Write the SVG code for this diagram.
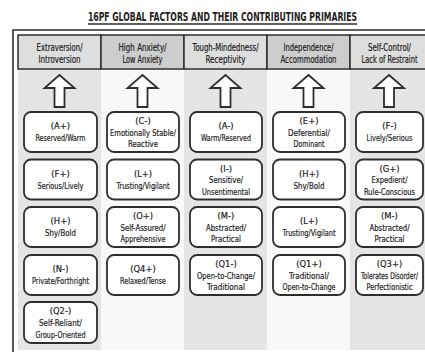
<svg xmlns="http://www.w3.org/2000/svg" xmlns:xlink="http://www.w3.org/1999/xlink" width="425" height="352" viewBox="0 0 425 352">
<style>
text{font-family:"DejaVu Sans Condensed","Liberation Sans",sans-serif;fill:#222222;text-anchor:middle;stroke:#222222;stroke-width:0.2}
.t{font-size:12.5px;font-weight:bold;stroke-width:0}
.h{font-size:10px}
.b{font-size:9.3px}
.s{font-size:8.6px}
.box{fill:#ffffff;stroke:#2e2e2e;stroke-width:1.8}
.arrow{fill:#ffffff;stroke:#2e2e2e;stroke-width:1.8;stroke-linejoin:miter}
.hd{stroke:#2e2e2e;stroke-width:1.5}
</style>
<defs>
<path id="arr" class="arrow" d="M0,75 L15,88 L5,88 L5,107 L-5,107 L-5,88 L-15,88 Z"/>
</defs>
<rect width="425" height="352" fill="#ffffff"/>
<text class="t" transform="translate(222.5,21) scale(0.66,1)" x="0" y="0" textLength="407.6" lengthAdjust="spacingAndGlyphs">16PF GLOBAL FACTORS AND THEIR CONTRIBUTING PRIMARIES</text>
<line x1="88" y1="24" x2="357" y2="24" stroke="#2a2a2a" stroke-width="1.3"/>
<!-- frame -->
<path d="M13,352 L13,30 L425,30" fill="none" stroke="#2e2e2e" stroke-width="1.6"/>
<!-- column backgrounds -->
<rect x="18" y="69" width="83" height="281" fill="#e5e5e5"/>
<rect x="101" y="69" width="83" height="281" fill="#f8f8f8"/>
<rect x="184" y="69" width="83" height="281" fill="#e5e5e5"/>
<rect x="267" y="69" width="83" height="281" fill="#f8f8f8"/>
<rect x="350" y="69" width="75" height="281" fill="#e5e5e5"/>
<!-- headers -->
<g id="headers">
<rect class="hd" x="18" y="35" width="83" height="34" fill="#dedede"/>
<rect class="hd" x="101" y="35" width="83" height="34" fill="#cdcdcd"/>
<rect class="hd" x="184" y="35" width="83" height="34" fill="#dedede"/>
<rect class="hd" x="267" y="35" width="83" height="34" fill="#cdcdcd"/>
<rect class="hd" x="350" y="35" width="80" height="34" fill="#dedede"/>
<text class="h" x="59.5" y="51" textLength="46" lengthAdjust="spacingAndGlyphs">Extraversion/</text><text class="h" x="59.5" y="63" textLength="42" lengthAdjust="spacingAndGlyphs">Introversion</text>
<text class="h" x="142.5" y="51" textLength="48" lengthAdjust="spacingAndGlyphs">High Anxiety/</text><text class="h" x="142.5" y="63" textLength="40" lengthAdjust="spacingAndGlyphs">Low Anxiety</text>
<text class="h" x="225.5" y="51" textLength="66" lengthAdjust="spacingAndGlyphs">Tough-Mindedness/</text><text class="h" x="225.5" y="63" textLength="40" lengthAdjust="spacingAndGlyphs">Receptivity</text>
<text class="h" x="308.5" y="51" textLength="50" lengthAdjust="spacingAndGlyphs">Independence/</text><text class="h" x="308.5" y="63" textLength="56" lengthAdjust="spacingAndGlyphs">Accommodation</text>
<text class="h" x="389.5" y="51" textLength="43" lengthAdjust="spacingAndGlyphs">Self-Control/</text><text class="h" transform="translate(389.5,63) scale(0.7,1)" x="0" y="0" textLength="80" lengthAdjust="spacingAndGlyphs">Lack of Restraint</text>
</g>
<g id="connectors">
<use xlink:href="#arr" x="59.5"/>
<use xlink:href="#arr" x="142.5"/>
<use xlink:href="#arr" x="225.5"/>
<use xlink:href="#arr" x="308.5"/>
<use xlink:href="#arr" x="389"/>
</g>
<!-- column 1 -->
<g id="c1r1"><rect class="box" x="24" y="112" width="73" height="40" rx="7"/><text class="b" x="60.5" y="129">(A+)</text><text class="b" x="60.5" y="141" textLength="50" lengthAdjust="spacingAndGlyphs">Reserved/Warm</text></g>
<g id="c1r2"><rect class="box" x="24" y="159.5" width="73" height="40" rx="7"/><text class="b" x="60.5" y="176.5">(F+)</text><text class="b" x="60.5" y="188.5" textLength="46" lengthAdjust="spacingAndGlyphs">Serious/Lively</text></g>
<g id="c1r3"><rect class="box" x="24" y="207" width="73" height="40" rx="7"/><text class="b" x="60.5" y="224">(H+)</text><text class="b" x="60.5" y="236" textLength="31" lengthAdjust="spacingAndGlyphs">Shy/Bold</text></g>
<g id="c1r4"><rect class="box" x="24" y="255" width="73" height="40" rx="7"/><text class="b" x="60.5" y="272">(N-)</text><text class="b" x="60.5" y="284" textLength="57" lengthAdjust="spacingAndGlyphs">Private/Forthright</text></g>
<g id="c1r5"><rect class="box" x="24" y="302" width="73" height="41" rx="7"/><text class="b" x="60.5" y="314">(Q2-)</text><text class="b" x="60.5" y="326" textLength="43" lengthAdjust="spacingAndGlyphs">Self-Reliant/</text><text class="b" x="60.5" y="338" textLength="50" lengthAdjust="spacingAndGlyphs">Group-Oriented</text></g>
<!-- column 2 -->
<g id="c2r1"><rect class="box" x="107" y="112" width="72" height="40" rx="7"/><text class="b" x="143" y="124">(C-)</text><text class="b" x="143" y="135.5" textLength="66" lengthAdjust="spacingAndGlyphs">Emotionally Stable/</text><text class="b" x="143" y="147" textLength="30" lengthAdjust="spacingAndGlyphs">Reactive</text></g>
<g id="c2r2"><rect class="box" x="107" y="159.5" width="72" height="40" rx="7"/><text class="b" x="143" y="176.5">(L+)</text><text class="b" x="143" y="188.5" textLength="53" lengthAdjust="spacingAndGlyphs">Trusting/Vigilant</text></g>
<g id="c2r3"><rect class="box" x="107" y="207" width="72" height="40" rx="7"/><text class="b" x="143" y="219">(O+)</text><text class="b" x="143" y="230.5" textLength="45" lengthAdjust="spacingAndGlyphs">Self-Assured/</text><text class="b" x="143" y="242" textLength="45" lengthAdjust="spacingAndGlyphs">Apprehensive</text></g>
<g id="c2r4"><rect class="box" x="107" y="255" width="72" height="40" rx="7"/><text class="b" x="143" y="272">(Q4+)</text><text class="b" x="143" y="284" textLength="46" lengthAdjust="spacingAndGlyphs">Relaxed/Tense</text></g>
<!-- column 3 -->
<g id="c3r1"><rect class="box" x="190" y="112" width="72" height="40" rx="7"/><text class="b" x="226" y="129">(A-)</text><text class="b" x="226" y="141" textLength="50" lengthAdjust="spacingAndGlyphs">Warm/Reserved</text></g>
<g id="c3r2"><rect class="box" x="190" y="159.5" width="72" height="40" rx="7"/><text class="b" x="226" y="171.5">(I-)</text><text class="b" x="226" y="183" textLength="34" lengthAdjust="spacingAndGlyphs">Sensitive/</text><text class="b" x="226" y="194.5" textLength="48" lengthAdjust="spacingAndGlyphs">Unsentimental</text></g>
<g id="c3r3"><rect class="box" x="190" y="207" width="72" height="40" rx="7"/><text class="b" x="226" y="219">(M-)</text><text class="b" x="226" y="230.5" textLength="40" lengthAdjust="spacingAndGlyphs">Abstracted/</text><text class="b" x="226" y="242" textLength="30" lengthAdjust="spacingAndGlyphs">Practical</text></g>
<g id="c3r4"><rect class="box" x="190" y="255" width="72" height="40" rx="7"/><text class="b" x="226" y="267">(Q1-)</text><text class="b" x="226" y="278.5" textLength="58" lengthAdjust="spacingAndGlyphs">Open-to-Change/</text><text class="b" x="226" y="290" textLength="38" lengthAdjust="spacingAndGlyphs">Traditional</text></g>
<!-- column 4 -->
<g id="c4r1"><rect class="box" x="273" y="112" width="72" height="40" rx="7"/><text class="b" x="309" y="124">(E+)</text><text class="b" x="309" y="135.5" textLength="42" lengthAdjust="spacingAndGlyphs">Deferential/</text><text class="b" x="309" y="147" textLength="31" lengthAdjust="spacingAndGlyphs">Dominant</text></g>
<g id="c4r2"><rect class="box" x="273" y="159.5" width="72" height="40" rx="7"/><text class="b" x="309" y="176.5">(H+)</text><text class="b" x="309" y="188.5" textLength="31" lengthAdjust="spacingAndGlyphs">Shy/Bold</text></g>
<g id="c4r3"><rect class="box" x="273" y="207" width="72" height="40" rx="7"/><text class="b" x="309" y="224">(L+)</text><text class="b" x="309" y="236" textLength="53" lengthAdjust="spacingAndGlyphs">Trusting/Vigilant</text></g>
<g id="c4r4"><rect class="box" x="273" y="255" width="72" height="40" rx="7"/><text class="b" x="309" y="267">(Q1+)</text><text class="b" x="309" y="278.5" textLength="40" lengthAdjust="spacingAndGlyphs">Traditional/</text><text class="b" x="309" y="290" textLength="53" lengthAdjust="spacingAndGlyphs">Open-to-Change</text></g>
<!-- column 5 -->
<g id="c5r1"><rect class="box" x="356" y="112" width="67" height="40" rx="7"/><text class="b" x="389.5" y="129">(F-)</text><text class="b" x="389.5" y="141" textLength="46" lengthAdjust="spacingAndGlyphs">Lively/Serious</text></g>
<g id="c5r2"><rect class="box" x="356" y="159.5" width="67" height="40" rx="7"/><text class="b" x="389.5" y="171.5">(G+)</text><text class="b" x="389.5" y="183" textLength="36" lengthAdjust="spacingAndGlyphs">Expedient/</text><text class="b" transform="translate(389.5,194.5) scale(0.75,1)" x="0" y="0" textLength="68" lengthAdjust="spacingAndGlyphs">Rule-Conscious</text></g>
<g id="c5r3"><rect class="box" x="356" y="207" width="67" height="40" rx="7"/><text class="b" x="389.5" y="219">(M-)</text><text class="b" x="389.5" y="230.5" textLength="40" lengthAdjust="spacingAndGlyphs">Abstracted/</text><text class="b" x="389.5" y="242" textLength="30" lengthAdjust="spacingAndGlyphs">Practical</text></g>
<g id="c5r4"><rect class="box" x="356" y="255" width="67" height="40" rx="7"/><text class="b" x="389.5" y="267">(Q3+)</text><text class="b" transform="translate(389.5,278.5) scale(0.62,1)" x="0" y="0" textLength="92" lengthAdjust="spacingAndGlyphs">Tolerates Disorder/</text><text class="b" x="389.5" y="290" textLength="46" lengthAdjust="spacingAndGlyphs">Perfectionistic</text></g>
</svg>
